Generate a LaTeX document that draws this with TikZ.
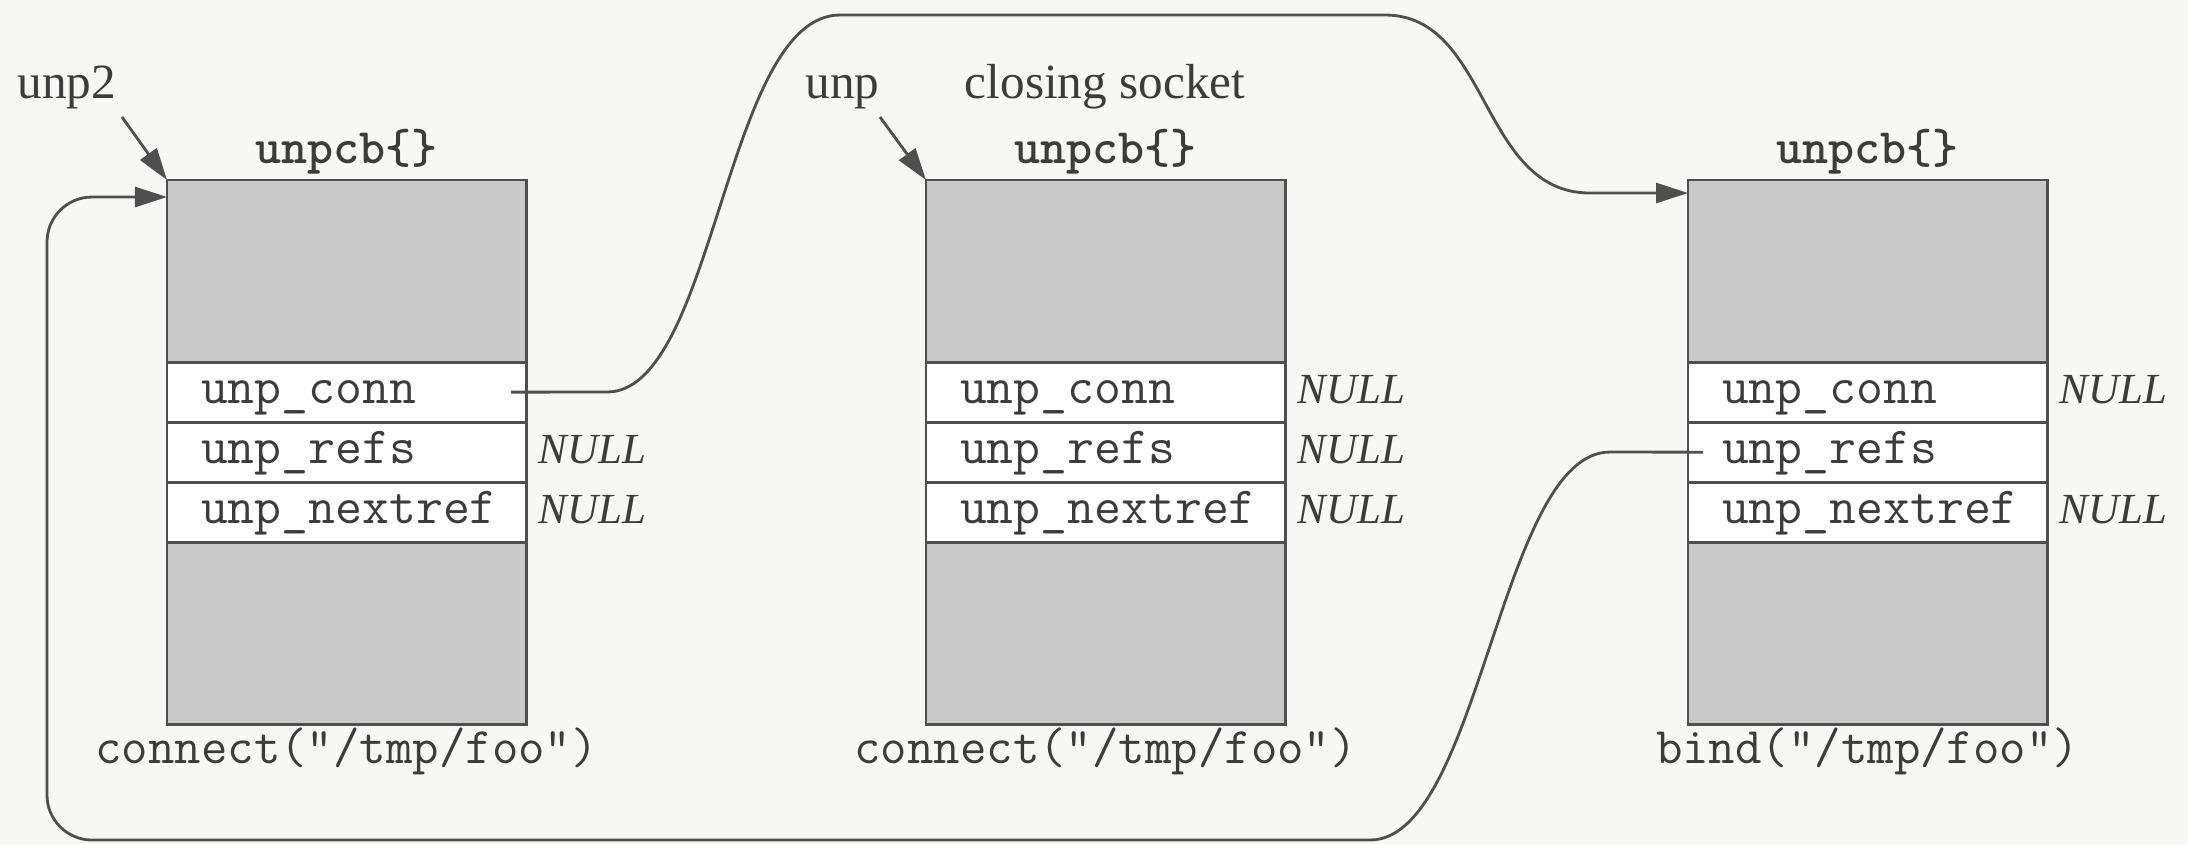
\documentclass[tikz,border=0pt]{standalone}
\usepackage{fontspec}
\setmainfont{Liberation Serif}
\usetikzlibrary{arrows.meta}
\definecolor{bgc}{HTML}{F7F7F5}
\definecolor{fillc}{HTML}{C9C9C9}
\definecolor{linec}{HTML}{4F4F4F}
\definecolor{txtc}{HTML}{3C3C3C}
\tikzset{
  part/.style={draw=linec, line width=0.8pt, minimum width=3.59cm, inner sep=0pt, outer sep=0pt, anchor=north west},
  shaded/.style={part, fill=fillc, minimum height=1.82cm},
  field/.style={part, fill=white, minimum height=0.6cm, inner xsep=0.34cm, text width=2.91cm, align=left,
    text height=0.225cm, text depth=0cm, text=txtc, font=\fontsize{14.85}{17}\selectfont\ttfamily},
  titlelbl/.style={anchor=base, inner sep=0pt, text=txtc, font=\fontsize{14.1}{16}\selectfont\ttfamily\bfseries},
  calllbl/.style={anchor=base, inner sep=0pt, text=txtc, font=\fontsize{14.6}{17}\selectfont\ttfamily},
  nulllbl/.style={anchor=base west, inner sep=0pt, text=txtc, font=\fontsize{12.2}{14}\selectfont\itshape},
  serlbl/.style={inner sep=0pt, text=txtc, font=\fontsize{14}{16}\selectfont},
  conn/.style={draw=linec, line width=0.8pt},
  ptr/.style={conn, -{Triangle[length=0.32cm, width=0.2cm]}},
}
\newcommand\unpstruct[3]{%
  \node[shaded] (#1top) at (#2,180) {};
  \node[field] (#1conn) at (#1top.south west) {unp\_conn};
  \node[field] (#1refs) at (#1conn.south west) {unp\_refs};
  \node[field] (#1next) at (#1refs.south west) {unp\_nextref};
  \node[shaded] (#1bot) at (#1next.south west) {};
  \node[titlelbl] (#1title) at ([yshift=0.17cm]#1top.north) {unpcb\{\}};
  \node[calllbl] (#1call) at ([yshift=-0.39cm]#1bot.south) {#3};
}
\begin{document}
\begin{tikzpicture}[x=0.01cm, y=-0.01cm]
\fill[bgc] (0,0) rectangle (2188,844);
\useasboundingbox (0,0) rectangle (2188,844);

\unpstruct{b1}{167}{connect("/tmp/foo")}
\unpstruct{b2}{926}{connect("/tmp/foo")}
\unpstruct{b3}{1688}{bind("/tmp/foo")}

% NULL markers
\node[nulllbl] (b1refsnull) at ([xshift=0.12cm, yshift=-0.11cm]b1refs.east) {NULL};
\node[nulllbl] (b1nextnull) at ([xshift=0.12cm, yshift=-0.11cm]b1next.east) {NULL};
\node[nulllbl] (b2connnull) at ([xshift=0.12cm, yshift=-0.11cm]b2conn.east) {NULL};
\node[nulllbl] (b2refsnull) at ([xshift=0.12cm, yshift=-0.11cm]b2refs.east) {NULL};
\node[nulllbl] (b2nextnull) at ([xshift=0.12cm, yshift=-0.11cm]b2next.east) {NULL};
\node[nulllbl] (b3connnull) at ([xshift=0.12cm, yshift=-0.11cm]b3conn.east) {NULL};
\node[nulllbl] (b3nextnull) at ([xshift=0.12cm, yshift=-0.11cm]b3next.east) {NULL};

% pointer labels
\node[serlbl, anchor=base west] (unptwo) at (17,98) {unp2};
\node[serlbl, anchor=base west] (unpone) at (805,98) {unp};
\node[serlbl, anchor=base] (closing) at (1105,98) {closing socket};
\coordinate (p2) at (122,117);
\coordinate (p1) at (880,117);
\draw[ptr] (p2) -- (b1top.north west);
\draw[ptr] (p1) -- (b2top.north west);

% unp2->unp_conn points to bound socket
\draw[ptr] ([xshift=-0.15cm]b1conn.east) -- (607,392)
  .. controls (715,392) and (725,15) .. (840,15) -- (1385,15)
  .. controls (1490,15) and (1480,193) .. (1590,193)
  -- ([yshift=-0.13cm]b3top.north west);

% bound socket unp_refs back to unp2
\draw[ptr] ([xshift=0.15cm]b3refs.west) -- (1610,452)
  .. controls (1500,452) and (1480,840) .. (1370,840)
  [rounded corners=0.45cm] -- (47,840) -- (47,197)
  -- ([yshift=-0.17cm]b1top.north west);
\end{tikzpicture}
\end{document}
